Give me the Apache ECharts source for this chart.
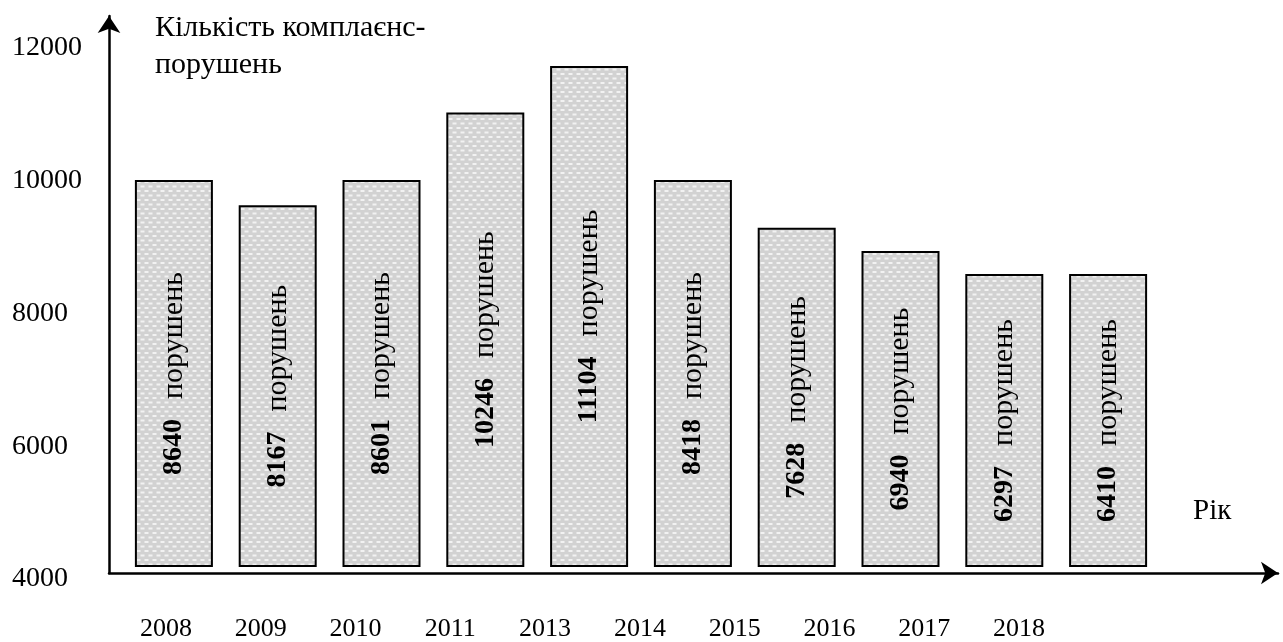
<!DOCTYPE html>
<html>
<head>
<meta charset="utf-8">
<script src="https://cdn.jsdelivr.net/npm/echarts@6/dist/echarts.min.js"></script>
<style>
html,body{margin:0;padding:0;background:#fff;}
#chart{width:1283px;height:642px;}
</style>
</head>
<body>
<div id="chart"></div>
<script>
// Data (bar heights as drawn, and the numbers written inside the bars)
const barKeys = ['b2008','b2009','b2010','b2011','b2013','b2014','b2015','b2016','b2017','b2018'];
const barHeights = [9980, 9600, 9980, 11000, 11700, 9980, 9260, 8910, 8565, 8565];
const barNumbers = [8640, 8167, 8601, 10246, 11104, 8418, 7628, 6940, 6297, 6410];
const yearLabels = ['2008','2009','2010','2011','2013','2014','2015','2016','2017','2018'];
const yTicks = [4000, 6000, 8000, 10000, 12000];
const wordLabel = 'порушень';
const titleText = 'Кількість комплаєнс-\nпорушень';
const xName = 'Рік';

const FONT = '"Liberation Serif", "Times New Roman", serif';

// dotted grey texture for the bars
function makePattern() {
  const c = document.createElement('canvas');
  c.width = 8; c.height = 9;
  const ctx = c.getContext('2d');
  ctx.fillStyle = '#d2d2d2';
  ctx.fillRect(0, 0, 8, 9);
  ctx.fillStyle = '#f2f2f2';
  ctx.fillRect(0.5, 1, 4, 2);
  ctx.fillRect(4.5, 5.5, 4, 2);
  ctx.fillRect(-3.5, 5.5, 4, 2);
  return c;
}

const chart = echarts.init(document.getElementById('chart'), null, {renderer: 'canvas'});
const option = {
  animation: false,
  backgroundColor: '#ffffff',
  textStyle: {fontFamily: FONT, color: '#000'},
  title: [
    {text: titleText, left: 150, top: 5,
     textStyle: {fontFamily: FONT, fontSize: 30, fontWeight: 'normal', color: '#000', lineHeight: 37}},
    {text: xName, left: 1188, top: 492,
     textStyle: {fontFamily: FONT, fontSize: 29, fontWeight: 'normal', color: '#000'}}
  ],
  grid: [
    // frame with arrows
    {left: 109, right: 5, top: 16, bottom: 69},
    // tick labels (y) and years (x)
    {left: 118.6, right: 216.6, top: 48, bottom: 63},
    // bars
    {left: 122, right: 123, top: 46, bottom: 76}
  ],
  xAxis: [
    {gridIndex: 0, type: 'value', min: 0, max: 1,
     axisLine: {show: true, onZero: false, symbol: ['none', 'arrow'], symbolSize: [17, 17],
                lineStyle: {color: '#000', width: 2.5}},
     axisTick: {show: false}, axisLabel: {show: false}, splitLine: {show: false}},
    {gridIndex: 1, type: 'category', data: yearLabels,
     axisLine: {show: false}, axisTick: {show: false}, splitLine: {show: false},
     axisLabel: {show: true, margin: 37, fontFamily: FONT, fontSize: 26, color: '#000'}},
    {gridIndex: 2, type: 'category', data: barKeys,
     axisLine: {show: false}, axisTick: {show: false}, axisLabel: {show: false}, splitLine: {show: false}}
  ],
  yAxis: [
    {gridIndex: 0, type: 'value', min: 0, max: 1,
     axisLine: {show: true, onZero: false, symbol: ['none', 'arrow'], symbolSize: [17, 17],
                lineStyle: {color: '#000', width: 2.5}},
     axisTick: {show: false}, axisLabel: {show: false}, splitLine: {show: false}},
    {gridIndex: 1, type: 'value', min: yTicks[0], max: yTicks[yTicks.length - 1], interval: yTicks[1] - yTicks[0],
     axisLine: {show: false}, axisTick: {show: false}, splitLine: {show: false},
     axisLabel: {show: true, margin: 106.6, align: 'left', fontFamily: FONT, fontSize: 28, color: '#000',
                 formatter: (v) => String(v)}},
    {gridIndex: 2, type: 'value', min: 4166, max: 12000,
     axisLine: {show: false}, axisTick: {show: false}, axisLabel: {show: false}, splitLine: {show: false}}
  ],
  series: [
    {
      type: 'bar',
      xAxisIndex: 2, yAxisIndex: 2,
      barWidth: 78,
      data: barHeights.map((v, i) => ({value: v, num: barNumbers[i]})),
      itemStyle: {
        color: {image: makePattern(), repeat: 'repeat'},
        borderColor: '#000',
        borderWidth: 2
      },
      label: {
        show: true,
        position: 'inside',
        rotate: 90,
        formatter: (p) => '{n|' + barNumbers[p.dataIndex] + '}{w|' + wordLabel + '}',
        rich: {
          n: {fontFamily: FONT, fontSize: 28, fontWeight: 'bold', color: '#000'},
          w: {fontFamily: FONT, fontSize: 30, fontWeight: 'normal', color: '#000', padding: [0, 0, 0, 20]}
        }
      }
    }
  ]
};
chart.setOption(option);
</script>
</body>
</html>
